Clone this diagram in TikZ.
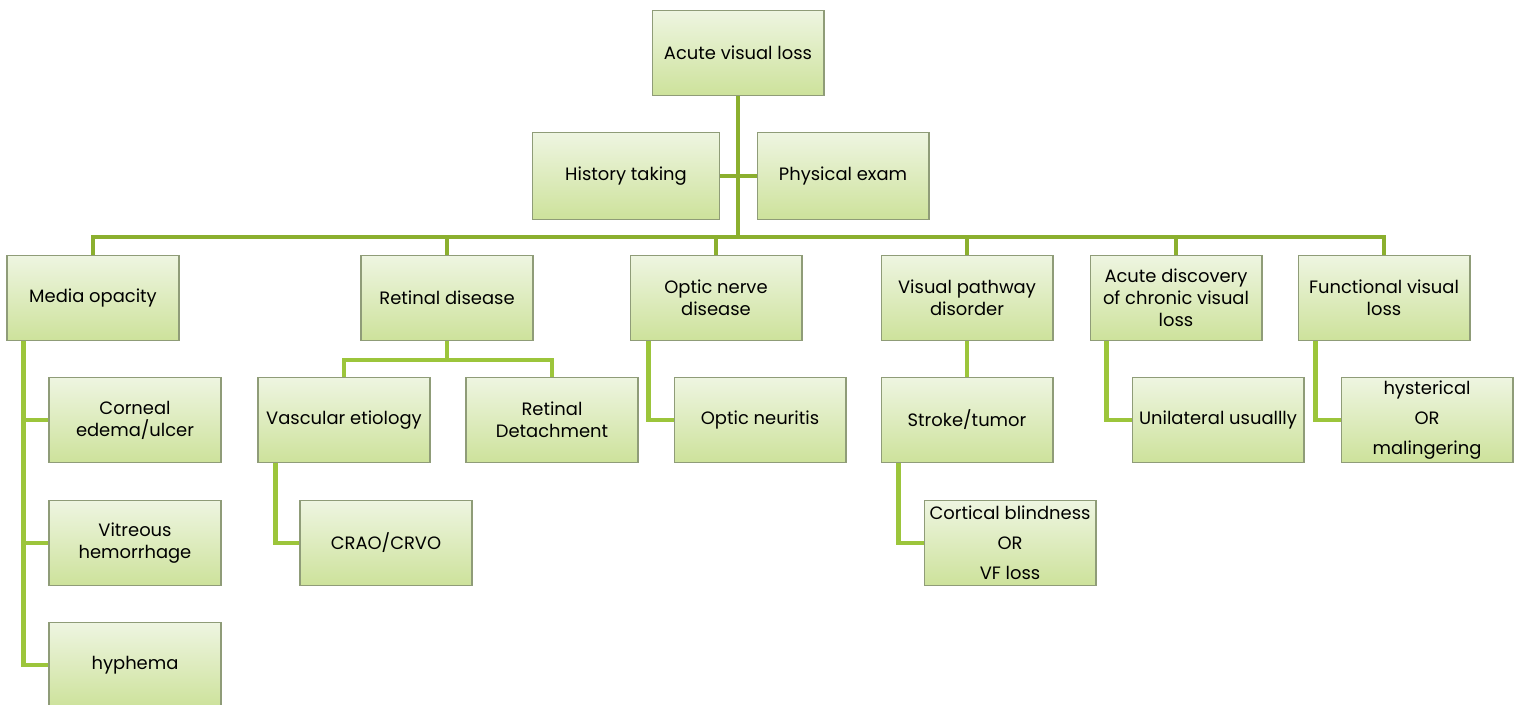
\documentclass[tikz,border=0pt]{standalone}
\usepackage{fontspec}
\setmainfont{Poppins}
\usetikzlibrary{positioning}
\definecolor{boxtop}{HTML}{EEF5E1}
\definecolor{boxbot}{HTML}{CDE29B}
\definecolor{boxline}{HTML}{8F9C78}
\definecolor{trunk}{HTML}{8BAF2E}
\definecolor{twig}{HTML}{9CC53B}
\tikzset{
  item/.style={draw=boxline, line width=0.6pt, top color=boxtop, bottom color=boxbot,
    minimum width=3.44cm, minimum height=1.7cm, align=center, inner sep=1pt,
    font=\fontsize{10.2}{12.5}\selectfont},
  tall/.style={font=\fontsize{10.2}{17}\selectfont},
  trunkline/.style={draw=trunk, line width=2.8pt},
  twigline/.style={draw=twig, line width=2.6pt},
}
\begin{document}
\begin{tikzpicture}[x=0.02cm, y=-0.02cm]
    \useasboundingbox (0,0) rectangle (1520,704);
    % top
    \node[item] (acute) at (738,53) {Acute visual loss};
    \node[item, minimum width=3.74cm, minimum height=1.74cm] (history) at (626,176) {History taking};
    \node[item, minimum height=1.74cm] (physical) at (843,176) {Physical exam};
    % first level
    \node[item] (media) at (93,298) {Media opacity};
    \node[item] (retinal) at (447,298) {Retinal disease};
    \node[item] (optic) at (716,298) {Optic nerve\\disease};
    \node[item] (pathway) at (967,298) {Visual pathway\\disorder};
    \node[item] (chronic) at (1176,298) {Acute discovery\\of chronic visual\\loss};
    \node[item] (functional) at (1384,298) {Functional visual\\loss};
    % second level
    \node[item] (cornea) at (135,420) {Corneal\\edema/ulcer};
    \node[item] (vitreous) at (135,543) {Vitreous\\hemorrhage};
    \node[item] (hyphema) at (135,665) {hyphema};
    \node[item] (vascular) at (344,420) {Vascular etiology};
    \node[item] (detach) at (552,420) {Retinal\\Detachment};
    \node[item] (crao) at (386,543) {CRAO/CRVO};
    \node[item] (neuritis) at (760,420) {Optic neuritis};
    \node[item] (stroke) at (967,420) {Stroke/tumor};
    \node[item, tall] (cortical) at (1010,543) {Cortical blindness\\OR\\VF loss};
    \node[item] (unilateral) at (1218,420) {Unilateral usuallly};
    \node[item, tall] (hysterical) at (1427,420) {hysterical\\OR\\malingering};
    % connectors
    \coordinate (bus) at (738,237);
    \draw[trunkline] (acute) -- (bus);
    \draw[trunkline] (history) -- (physical);
    \foreach \n in {media,retinal,optic,pathway,chronic,functional}
        \draw[trunkline] (\n.north) |- (bus);
    \foreach \n in {cornea,vitreous,hyphema}
        \draw[twigline] ([xshift=0.34cm]media.south west) |- (\n.west);
    \draw[twigline] (retinal.south) -- ++(0,19) -| (vascular.north);
    \draw[twigline] (retinal.south) -- ++(0,19) -| (detach.north);
    \draw[twigline] ([xshift=0.36cm]vascular.south west) |- (crao.west);
    \draw[twigline] ([xshift=0.38cm]optic.south west) |- (neuritis.west);
    \draw[twigline] (pathway) -- (stroke);
    \draw[twigline] ([xshift=0.36cm]stroke.south west) |- (cortical.west);
    \draw[twigline] ([xshift=0.34cm]chronic.south west) |- (unilateral.west);
    \draw[twigline] ([xshift=0.36cm]functional.south west) |- (hysterical.west);
\end{tikzpicture}
\end{document}
